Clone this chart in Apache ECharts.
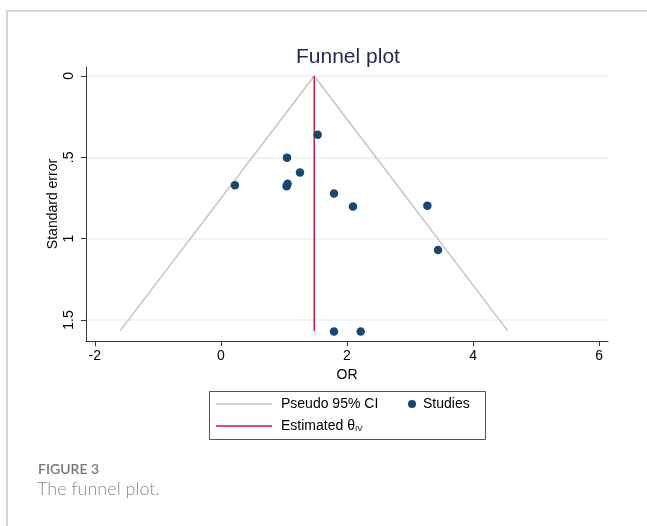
<!DOCTYPE html>
<html>
<head>
<meta charset="utf-8">
<script src="https://cdn.jsdelivr.net/npm/echarts@6/dist/echarts.min.js"></script>
<style>html,body{margin:0;padding:0;background:#fff;}#c{width:647px;height:526px;}</style>
</head>
<body>
<div id="c"></div>
<script>
// Study estimates
var studyOR = [1.535, 1.048, 1.254, 0.222, 1.058, 1.042, 1.794, 2.095, 3.275, 3.444, 1.794, 2.217];
var studySE = [0.361, 0.502, 0.594, 0.672, 0.662, 0.678, 0.723, 0.803, 0.797, 1.069, 1.571, 1.571];
// Pseudo 95% CI funnel
var ciOR = [-1.60, 1.48, 4.55];
var ciSE = [1.567, 0, 1.567];
// Estimated theta IV line
var thetaOR = [1.48, 1.48];
var thetaSE = [0, 1.567];
// Tick labels
var xTicks = [-2, 0, 2, 4, 6];
var yTicks = [0, 0.5, 1, 1.5];
var yTickLabels = ['0', '.5', '1', '1.5'];

function zip(a, b) { return a.map(function (v, i) { return [v, b[i]]; }); }

var FONT = 'Liberation Sans, Arial, sans-serif';
var chart = echarts.init(document.getElementById('c'), null, { renderer: 'canvas' });
chart.setOption({
  animation: false,
  backgroundColor: '#fff',
  title: {
    text: 'Funnel plot', left: 291, top: 42,
    textStyle: { fontFamily: FONT, fontSize: 21, fontWeight: 'normal', color: '#1e2b4d' }
  },
  grid: { left: 86, right: 39, top: 67, bottom: 185, containLabel: false },
  xAxis: {
    type: 'value', min: -2.14, max: 6.14,
    name: 'OR', nameLocation: 'middle', nameGap: 26,
    nameTextStyle: { fontFamily: FONT, fontSize: 14, color: '#000' },
    axisLine: { show: true, onZero: false, lineStyle: { color: '#333', width: 1 } },
    axisTick: { show: true, length: 5, customValues: xTicks, lineStyle: { color: '#333' } },
    axisLabel: { customValues: xTicks, fontFamily: FONT, fontSize: 14, color: '#000', margin: 8 },
    splitLine: { show: false }
  },
  yAxis: {
    type: 'value', inverse: true, min: -0.055, max: 1.629,
    name: 'Standard error', nameLocation: 'middle', nameGap: 26, nameRotate: 90, nameMoveOverlap: false,
    nameTextStyle: { fontFamily: FONT, fontSize: 14, color: '#000' },
    axisLine: { show: true, onZero: false, lineStyle: { color: '#333', width: 1 } },
    axisTick: { show: true, length: 5, customValues: yTicks, lineStyle: { color: '#333' } },
    axisLabel: {
      customValues: yTicks, rotate: 90, fontFamily: FONT, fontSize: 14, color: '#000', margin: 10,
      formatter: function (v) { var i = yTicks.indexOf(v); return i >= 0 ? yTickLabels[i] : ''; }
    },
    splitLine: { show: true, lineStyle: { color: '#eaf2f4', width: 1.5 } }
  },
  legend: [
    { data: [{ name: 'Pseudo 95% CI', icon: 'rect' }], left: 216, top: 397, itemWidth: 56, itemHeight: 1.5, padding: 0,
      itemStyle: { color: '#c4c4c4' },
      textStyle: { fontFamily: FONT, fontSize: 14, color: '#000', padding: [0, 0, 0, 4] }, selectedMode: false },
    { data: [{ name: 'Studies', icon: 'circle' }], left: 408, top: 397, itemWidth: 8, itemHeight: 8, padding: 0,
      textStyle: { fontFamily: FONT, fontSize: 14, color: '#000', padding: [0, 0, 0, 2] }, selectedMode: false },
    { data: [{ name: 'Estimated θIV', icon: 'rect' }], left: 216, top: 419, itemWidth: 56, itemHeight: 1.5, padding: 0,
      itemStyle: { color: '#d5173f' },
      formatter: function () { return '{a|Estimated θ}{s|IV}'; },
      textStyle: { fontFamily: FONT, fontSize: 14, color: '#000', padding: [0, 0, 0, 4],
        rich: { a: { fontFamily: FONT, fontSize: 14, color: '#000' },
                s: { fontFamily: FONT, fontSize: 8, color: '#000', padding: [6, 0, 0, 0] } } },
      selectedMode: false }
  ],
  graphic: [
    { type: 'polyline', shape: { points: [[7, 526], [7, 11], [647, 11]] }, style: { stroke: '#d6d6d6', lineWidth: 2, fill: null } },
    { type: 'rect', shape: { x: 209.5, y: 391.5, width: 276, height: 48 }, style: { stroke: '#555', lineWidth: 1, fill: null } },
    { type: 'text', left: 38, top: 462, style: { text: 'FIGURE 3', font: '600 14px Lato, "Open Sans", sans-serif', fill: '#777' } },
    { type: 'text', left: 37, top: 480, style: { text: 'The funnel plot.', font: '300 18px Lato, "Open Sans", sans-serif', fill: '#8a8a8a' } }
  ],
  series: [
    { name: 'Pseudo 95% CI', type: 'line', data: zip(ciOR, ciSE), symbol: 'none',
      lineStyle: { color: '#c4c4c4', width: 1.5 }, itemStyle: { color: '#c4c4c4' }, z: 2 },
    { name: 'Estimated θIV', type: 'line', data: zip(thetaOR, thetaSE), symbol: 'none',
      lineStyle: { color: '#d5173f', width: 1.5 }, itemStyle: { color: '#d5173f' }, z: 3 },
    { name: 'Studies', type: 'scatter', data: zip(studyOR, studySE), symbol: 'circle', symbolSize: 8.5,
      itemStyle: { color: '#1a476f', opacity: 1 }, z: 4 }
  ]
});
</script>
</body>
</html>
